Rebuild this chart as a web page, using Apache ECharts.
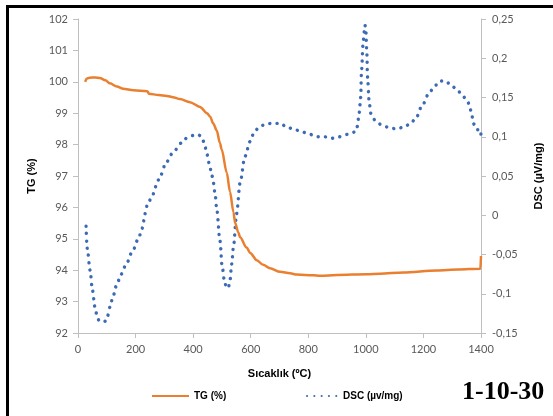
<!DOCTYPE html>
<html>
<head>
<meta charset="utf-8">
<script src="https://cdn.jsdelivr.net/npm/echarts@6/dist/echarts.min.js"></script>
<style>
html,body{margin:0;padding:0;background:#fff;}
#c{width:553px;height:416px;}
</style>
</head>
<body>
<div id="c"></div>
<script>
// ---- data ----
var xTicks = [0, 200, 400, 600, 800, 1000, 1200, 1400];
var tgTicks = [92, 93, 94, 95, 96, 97, 98, 99, 100, 101, 102];
var dscTicks = [-0.15, -0.1, -0.05, 0, 0.05, 0.1, 0.15, 0.2, 0.25];

var tgTemp = [25, 30, 40, 60, 76, 95, 111, 135, 157, 192, 240, 243, 246, 280, 309, 330, 354, 389, 424, 448, 459, 470, 482, 493, 499, 517, 528, 540, 546, 557, 563, 586, 598, 621, 643, 667, 702, 737, 760, 817, 841, 900, 1003, 1049, 1130, 1246, 1320, 1398, 1400];
var tgVal  = [100.0, 100.1, 100.13, 100.14, 100.12, 100.05, 99.95, 99.85, 99.78, 99.73, 99.70, 99.68, 99.62, 99.58, 99.55, 99.51, 99.45, 99.35, 99.2, 99.0, 98.89, 98.67, 98.45, 98.05, 97.85, 97.1, 96.5, 95.85, 95.5, 95.2, 95.05, 94.72, 94.55, 94.32, 94.17, 94.06, 93.95, 93.9, 93.86, 93.84, 93.82, 93.85, 93.87, 93.89, 93.93, 93.99, 94.02, 94.05, 94.45];

var dscTemp = [28, 32, 42, 50, 59, 67, 74, 95, 103, 111, 122, 134, 150, 169, 190, 215, 244, 256, 280, 308, 330, 359, 380, 404, 420, 430, 440, 447, 456, 464, 470, 476, 482, 493, 501, 510, 516, 522, 528, 534, 540, 551, 563, 580, 598, 610, 626, 650, 673, 702, 727, 754, 779, 806, 829, 856, 881, 908, 936, 962, 970, 977, 982, 985, 991, 997, 1000, 1003, 1006, 1011, 1017, 1032, 1055, 1078, 1105, 1130, 1153, 1173, 1196, 1220, 1240, 1257, 1277, 1298, 1319, 1336, 1354, 1362, 1368, 1373, 1385, 1399, 1400];
var dscVal  = [-0.014, -0.042, -0.070, -0.095, -0.117, -0.130, -0.135, -0.135, -0.128, -0.117, -0.103, -0.089, -0.075, -0.061, -0.045, -0.025, 0.015, 0.024, 0.045, 0.068, 0.080, 0.092, 0.099, 0.102, 0.102, 0.100, 0.090, 0.079, 0.066, 0.053, 0.042, 0.028, 0.008, -0.032, -0.066, -0.087, -0.091, -0.093, -0.083, -0.062, -0.040, 0.002, 0.041, 0.075, 0.094, 0.104, 0.111, 0.116, 0.117, 0.117, 0.112, 0.109, 0.106, 0.103, 0.100, 0.100, 0.098, 0.100, 0.103, 0.106, 0.113, 0.131, 0.150, 0.185, 0.223, 0.242, 0.235, 0.210, 0.176, 0.147, 0.130, 0.121, 0.115, 0.112, 0.110, 0.112, 0.116, 0.123, 0.140, 0.156, 0.165, 0.171, 0.171, 0.165, 0.159, 0.152, 0.145, 0.136, 0.128, 0.117, 0.109, 0.109, 0.101];

var seriesNames = ['TG (%)', 'DSC (µv/mg)'];
var xTitle = 'Sıcaklık (ºC)';
var tgTitle = 'TG (%)';
var dscTitle = 'DSC (µV/mg)';
var tagText = '1-10-30';

function zip(a, b) { var r = []; for (var i = 0; i < a.length; i++) r.push([a[i], b[i]]); return r; }
function comma(v) { var r = Math.round(v * 100) / 100; return String(r).replace('.', ','); }
function plain(v) { return String(Math.round(v)); }

var axisLineGray = '#bfbfbf';
var labelStyle = { color: '#595959', fontSize: 11, fontFamily: 'Lato, "Liberation Sans", sans-serif' };
var titleStyle = { color: '#000', fontSize: 11, fontWeight: 'bold', fontFamily: '"Liberation Sans", Arial, sans-serif' };
var legendText = { color: '#000', fontSize: 10, fontWeight: 'bold', fontFamily: '"Liberation Sans", Arial, sans-serif' };

var chart = echarts.init(document.getElementById('c'), null, { renderer: 'canvas' });
chart.setOption({
  animation: false,
  backgroundColor: '#fff',
  grid: { left: 78, right: 72, top: 19, bottom: 83, containLabel: false },
  xAxis: {
    type: 'value',
    min: xTicks[0], max: xTicks[xTicks.length - 1], interval: xTicks[1] - xTicks[0],
    name: xTitle, nameLocation: 'middle', nameGap: 35, nameTextStyle: titleStyle,
    axisLine: { show: true, onZero: false, lineStyle: { color: axisLineGray, width: 1 } },
    axisTick: { show: true, length: 5, inside: false, lineStyle: { color: axisLineGray } },
    axisLabel: Object.assign({ margin: 11, formatter: plain }, labelStyle),
    splitLine: { show: false }
  },
  yAxis: [{
    type: 'value', position: 'left',
    min: tgTicks[0], max: tgTicks[tgTicks.length - 1], interval: tgTicks[1] - tgTicks[0],
    name: tgTitle, nameLocation: 'middle', nameGap: 41, nameRotate: 90, nameTextStyle: titleStyle,
    axisLine: { show: true, lineStyle: { color: axisLineGray, width: 1 } },
    axisTick: { show: true, length: 5, lineStyle: { color: axisLineGray } },
    axisLabel: Object.assign({ margin: 10, formatter: plain }, labelStyle),
    splitLine: { show: false }
  }, {
    type: 'value', position: 'right',
    min: dscTicks[0], max: dscTicks[dscTicks.length - 1], interval: 0.05,
    name: dscTitle, nameLocation: 'middle', nameGap: 52, nameRotate: 90, nameTextStyle: titleStyle,
    axisLine: { show: true, lineStyle: { color: axisLineGray, width: 1 } },
    axisTick: { show: true, length: 5, lineStyle: { color: axisLineGray } },
    axisLabel: Object.assign({ margin: 11, formatter: comma }, labelStyle),
    splitLine: { show: false }
  }],
  legend: [{
    left: 146, top: 386, itemWidth: 37, itemHeight: 10, itemGap: 10,
    data: [seriesNames[0]],
    itemStyle: { opacity: 0 },
    textStyle: legendText
  }, {
    left: 301, top: 386, itemWidth: 31, itemHeight: 10, itemGap: 10,
    data: [seriesNames[1]],
    itemStyle: { opacity: 0 },
    textStyle: legendText
  }],
  series: [{
    name: seriesNames[0], type: 'line', yAxisIndex: 0,
    data: zip(tgTemp, tgVal),
    smooth: 0.3, smoothMonotone: 'x', symbol: 'none', showSymbol: false,
    lineStyle: { color: '#E97F2F', width: 2.5 },
    itemStyle: { color: '#E97F2F' },
    z: 3
  }, {
    name: seriesNames[1], type: 'line', yAxisIndex: 1,
    data: zip(dscTemp, dscVal),
    smooth: 0.3, smoothMonotone: 'x', symbol: 'none', showSymbol: false,
    lineStyle: { color: '#3C6AB4', width: 3.4, type: [0.1, 7.2], cap: 'round' },
    itemStyle: { color: '#3C6AB4' },
    z: 2
  }],
  graphic: [
    { type: 'line', shape: { x1: 7.5, y1: 5, x2: 7.5, y2: 416 }, style: { stroke: '#000', lineWidth: 3 }, silent: true },
    { type: 'line', shape: { x1: 6, y1: 6.5, x2: 553, y2: 6.5 }, style: { stroke: '#000', lineWidth: 3 }, silent: true },
    { type: 'text', left: 462, top: 379, style: { text: tagText, fill: '#000', font: 'bold 26px "Liberation Serif", "Times New Roman", serif' }, silent: true }
  ]
});
</script>
</body>
</html>
